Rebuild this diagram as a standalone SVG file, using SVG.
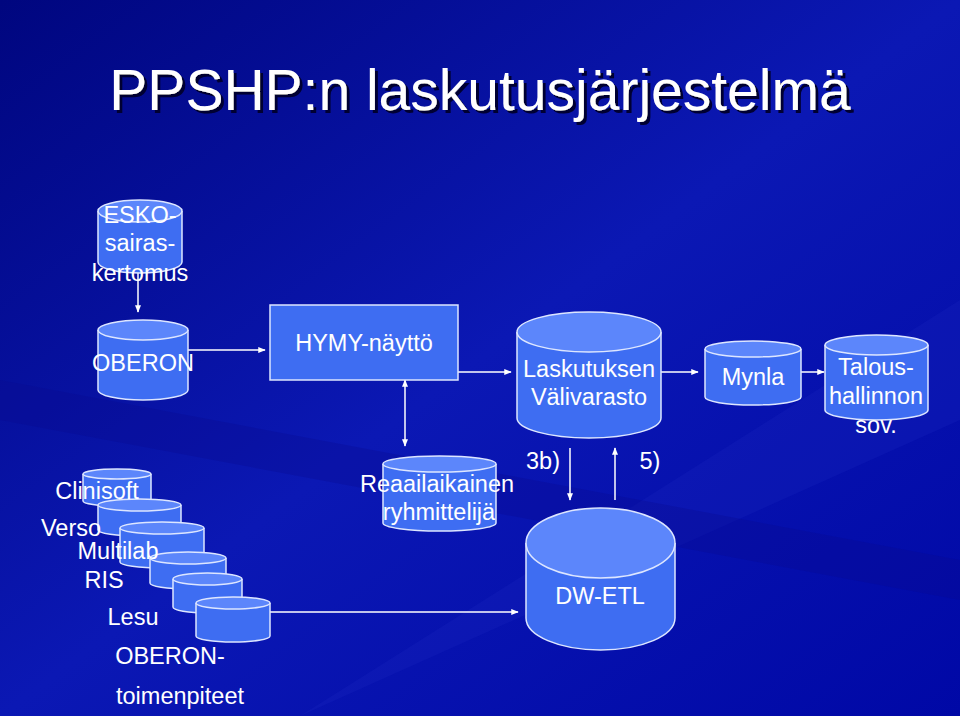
<svg xmlns="http://www.w3.org/2000/svg" width="960" height="716" viewBox="0 0 960 716">
<defs>
<linearGradient id="bg" x1="0" y1="0" x2="1" y2="1">
<stop offset="0" stop-color="#00067f"/><stop offset="0.5" stop-color="#0b18b4"/><stop offset="1" stop-color="#0008a6"/>
</linearGradient>
<filter id="sh" x="-5%" y="-20%" width="110%" height="140%"><feDropShadow dx="3" dy="3" stdDeviation="0.5" flood-color="#000030" flood-opacity="1"/></filter>
<marker id="ah" viewBox="0 0 10 10" refX="9" refY="5" markerWidth="5" markerHeight="5" orient="auto-start-reverse"><path d="M0,1 L10,5 L0,9 z" fill="#fff"/></marker>
</defs>
<style>
.cb{fill:#3e6df2;stroke:#dde6ff;stroke-width:1.5}
.ct{fill:#5c86fb;stroke:#dde6ff;stroke-width:1.5}
.t{font-family:"Liberation Sans",Arial,sans-serif;font-size:23.5px;fill:#fff;text-anchor:middle}
.c line{stroke:#fff;stroke-width:1.5;marker-end:url(#ah)}
</style>
<rect width="960" height="716" fill="url(#bg)"/>
<path d="M300,716 L960,300 L960,420 Z" fill="#1a28c0" opacity="0.25"/>
<path d="M0,380 L960,560 L960,600 L0,420 Z" fill="#0a0a90" opacity="0.3"/>
<g id="title">
<text x="480" y="110" font-family="'Liberation Sans',Arial,sans-serif" font-size="57" fill="#fff" text-anchor="middle" filter="url(#sh)">PPSHP:n laskutusjärjestelmä</text>
</g>

<g class="c">
<line x1="138" y1="273" x2="138" y2="312"/>
<line x1="188" y1="350" x2="265" y2="350"/>
<line x1="405" y1="395" x2="405" y2="380" />
<line x1="405" y1="395" x2="405" y2="446"/>
<line x1="458" y1="372" x2="511" y2="372"/>
<line x1="661" y1="372" x2="698" y2="372"/>
<line x1="801" y1="372" x2="824" y2="372"/>
<line x1="570" y1="448" x2="570" y2="500"/>
<line x1="615" y1="500" x2="615" y2="448"/>
<line x1="270" y1="612" x2="518" y2="612"/>
</g>

<g id="esko"><path class="cb" d="M98,211 V262 A42,11 0 0 0 182,262 V211"/><ellipse class="ct" cx="140" cy="211" rx="42" ry="11"/>
<text class="t" x="140" y="223">ESKO-</text><text class="t" x="140" y="251">sairas-</text><text class="t" x="140" y="281">kertomus</text></g>

<g id="oberon"><path class="cb" d="M98,330 V390 A45,10 0 0 0 188,390 V330"/><ellipse class="ct" cx="143" cy="330" rx="45" ry="10"/>
<text class="t" x="143" y="371">OBERON</text></g>

<g id="hymy"><rect x="270" y="305" width="188" height="75" fill="#3e6df2" stroke="#dde6ff" stroke-width="1.5"/>
<text class="t" x="364" y="351">HYMY-näyttö</text></g>

<g id="reaa"><path class="cb" d="M383,464 V523 A56,8 0 0 0 496,523 V464"/><ellipse class="ct" cx="439.5" cy="464" rx="56.5" ry="8"/>
<text class="t" x="437" y="492">Reaailaikainen</text><text class="t" x="439" y="520">ryhmittelijä</text></g>

<g id="lask"><path class="cb" d="M517,332 V418 A72,20 0 0 0 661,418 V332"/><ellipse class="ct" cx="589" cy="332" rx="72" ry="20"/>
<text class="t" x="589" y="377">Laskutuksen</text><text class="t" x="589" y="405">Välivarasto</text></g>

<g id="mynla"><path class="cb" d="M705,349 V397 A48,8 0 0 0 801,397 V349"/><ellipse class="ct" cx="753" cy="349" rx="48" ry="8"/>
<text class="t" x="753" y="385">Mynla</text></g>

<g id="talous"><path class="cb" d="M825,345 V410 A51.5,10 0 0 0 928,410 V345"/><ellipse class="ct" cx="876.5" cy="345" rx="51.5" ry="10"/>
<text class="t" x="876" y="375">Talous-</text><text class="t" x="876" y="404">hallinnon</text><text class="t" x="876" y="433">sov.</text></g>

<text class="t" x="543" y="469">3b)</text><text class="t" x="650" y="469">5)</text>

<g id="dwetl"><path class="cb" d="M526,543 V618 A74.5,32 0 0 0 675,618 V543"/><ellipse class="ct" cx="600.5" cy="543" rx="74.5" ry="35"/>
<text class="t" x="600" y="604">DW-ETL</text></g>

<g id="s1"><path class="cb" d="M83,474 V501 A34,5 0 0 0 151,501 V474"/><ellipse class="ct" cx="117" cy="474" rx="34" ry="5"/></g>
<g id="s2"><path class="cb" d="M98,505 V530 A41.5,6 0 0 0 181,530 V505"/><ellipse class="ct" cx="139.5" cy="505" rx="41.5" ry="6"/></g>
<g id="s3"><path class="cb" d="M120,528 V562 A42,6 0 0 0 204,562 V528"/><ellipse class="ct" cx="162" cy="528" rx="42" ry="6"/></g>
<g id="s4"><path class="cb" d="M150,558 V583 A38,6 0 0 0 226,583 V558"/><ellipse class="ct" cx="188" cy="558" rx="38" ry="6"/></g>
<g id="s5"><path class="cb" d="M173,579 V607 A34.5,6 0 0 0 242,607 V579"/><ellipse class="ct" cx="207.5" cy="579" rx="34.5" ry="6"/></g>
<g id="s6"><path class="cb" d="M196,603 V636 A37,6 0 0 0 270,636 V603"/><ellipse class="ct" cx="233" cy="603" rx="37" ry="6"/></g>

<text class="t" x="97" y="499">Clinisoft</text>
<text class="t" x="71" y="536">Verso</text>
<text class="t" x="118" y="559">Multilab</text>
<text class="t" x="104" y="588">RIS</text>
<text class="t" x="133" y="625">Lesu</text>
<text class="t" x="170" y="664">OBERON-</text>
<text class="t" x="180" y="704">toimenpiteet</text>
</svg>
